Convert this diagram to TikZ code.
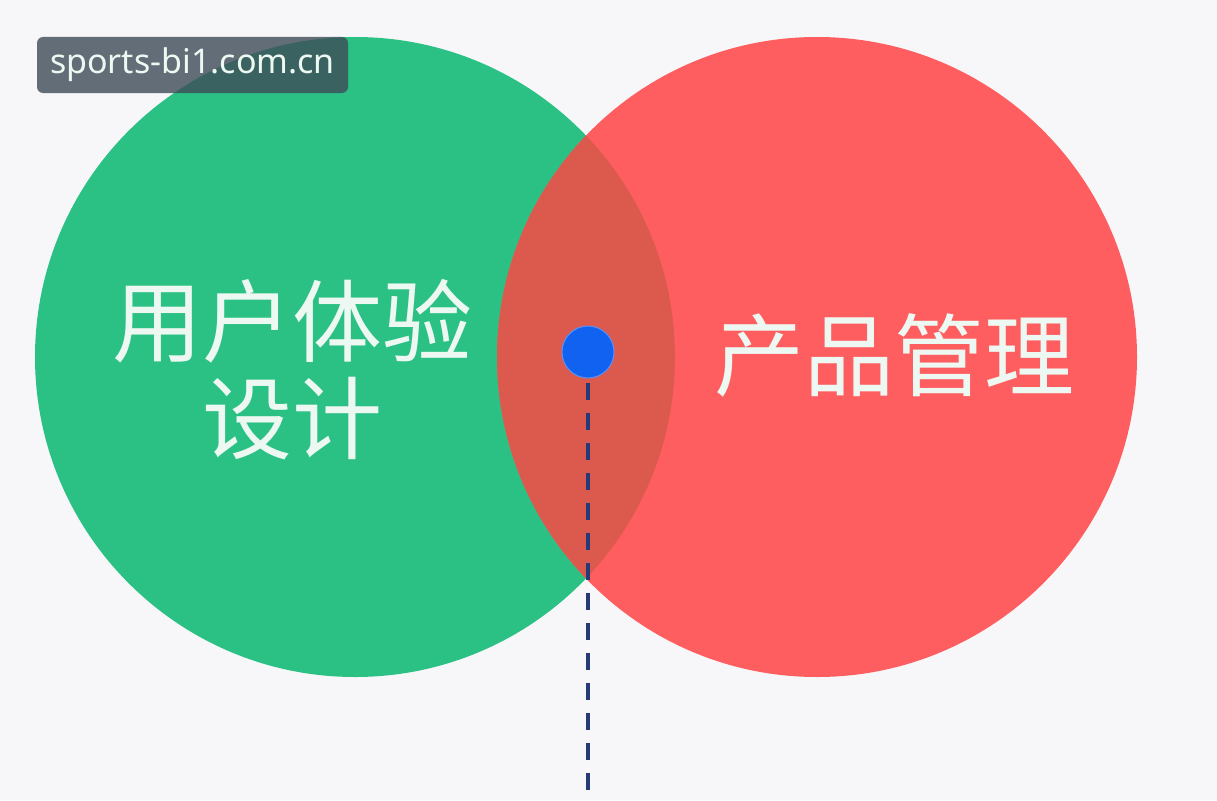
\documentclass[tikz,border=0pt]{standalone}
\usepackage{fontspec}
\usepackage{tikz}
\usepackage{xcolor}
\newfontfamily\cjk{Noto Sans CJK SC}
\newfontfamily\wmfont{Noto Sans}
\definecolor{uxgreen}{HTML}{2BC185}
\definecolor{pmred}{HTML}{FF5E60}
\definecolor{overlapred}{HTML}{DC5A4D}
\definecolor{dotblue}{HTML}{1262F2}
\definecolor{dashnavy}{HTML}{263A78}
\definecolor{bggray}{HTML}{F7F7F9}
\definecolor{wmgray}{HTML}{3E4B57}
\definecolor{labelwhite}{HTML}{EEF8F2}

\begin{document}
\begin{tikzpicture}[x=1pt, y=-1pt,
    venn/.style={circle, minimum size=640pt, inner sep=0pt},
    vennlabel/.style={text=labelwhite, font=\cjk\fontsize{90}{97}\selectfont, align=center},
    link/.style={draw=dashnavy, line width=4pt, dash pattern=on 17pt off 13pt}]
    % Background
    \fill[bggray] (0,0) rectangle (1217,800);
    \useasboundingbox (0,0) rectangle (1217,800);
    % Circles
    \node[venn, fill=uxgreen] (ux) at (355,357) {};
    \node[venn, fill=pmred] (pm) at (817,357) {};
    % Overlap
    \begin{scope}
        \clip (355,357) circle (320);
        \fill[overlapred] (817,357) circle (320);
    \end{scope}
    % Labels
    \node[vennlabel] (uxtext) at (292,370) {用户体验\\设计};
    \node[vennlabel] (pmtext) at (894,355) {产品管理};
    % Dot and dashed line
    \node[circle, fill=dotblue, draw=dotblue!70!white, line width=1pt, minimum size=52pt, inner sep=0pt] (dot) at (588,352) {};
    \coordinate (bottom) at (588,800);
    \draw[link] (dot.south) ++(0,4) -- (bottom);
    % Watermark
    \node[fill=wmgray, fill opacity=0.8, text opacity=1, rounded corners=6pt, minimum width=311pt, minimum height=56pt, inner sep=0pt, text=labelwhite, font=\wmfont\fontsize{34}{34}\selectfont] (wm) at (192.5,65) {sports-bi1.com.cn};
\end{tikzpicture}
\end{document}
